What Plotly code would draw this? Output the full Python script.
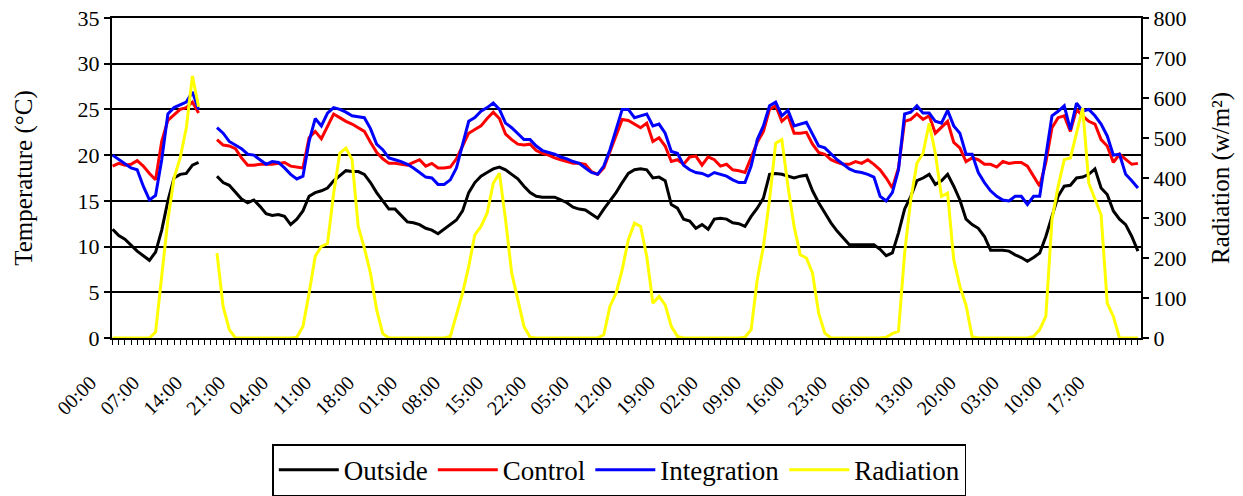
import plotly.graph_objects as go

# Hourly readings over seven days (index 0 = 00:00 on day 1); None marks missing hours.
hours = list(range(168))

outside = (
    [11.9, 11.2, 10.8, 10.1, 9.5, 9.0, 8.5, 9.4, 11.8, 15.0, 17.5, 17.9, 18.0, 18.9, 19.2]
    + [None, None]
    + [17.7, 17.0, 16.7, 15.9, 15.2, 14.8, 15.1, 14.4, 13.6, 13.4, 13.5]
    + [13.3, 12.4, 13.0, 13.9, 15.5, 15.9, 16.1, 16.4, 17.2, 17.8,
       18.3, 18.2, 18.2, 17.9, 17.0, 15.9, 15.0, 14.1, 14.1, 13.4,
       12.7, 12.6, 12.4, 12.0, 11.8, 11.4, 11.9, 12.3]
    + [12.9, 13.9, 15.9, 17.0, 17.7, 18.1, 18.5, 18.7, 18.4, 17.9,
       17.4, 16.6, 15.9, 15.5, 15.4, 15.4, 15.4, 15.1, 14.8, 14.3,
       14.1, 14.0, 13.5, 13.1, 14.1, 15.0, 15.9, 17.0]
    + [18.0, 18.4, 18.5, 18.4, 17.5, 17.6, 17.2, 14.6, 14.2, 13.0,
       12.8, 12.0, 12.4, 11.9, 13.0, 13.1, 13.0, 12.6, 12.5, 12.2,
       13.3, 14.2, 15.3, 17.9, 18.0, 17.9, 17.7, 17.5]
    + [17.7, 17.8, 16.1, 14.8, 13.7, 12.6, 11.7, 10.9, 10.2, 10.2,
       10.2, 10.2, 10.2, 9.7, 9.0, 9.3, 11.5, 14.1, 15.5, 17.2,
       17.5, 17.9, 16.8, 17.2, 17.9, 16.6, 15.1, 13.0]
    + [12.4, 12.0, 11.1, 9.6, 9.6, 9.6, 9.5, 9.1, 8.8, 8.4,
       8.8, 9.3, 11.1, 13.3, 15.5, 16.6, 16.7, 17.5, 17.6, 17.9,
       18.5, 16.4, 15.7, 13.9, 13.0, 12.4, 11.1, 9.5]
)

control = (
    [18.8, 19.1, 18.9, 19.0, 19.4, 18.8, 18.0, 17.3, 21.5, 23.8, 24.4, 25.0, 25.2, 25.8, 24.6]
    + [None, None]
    + [21.7, 21.1, 21.0, 20.7, 19.7, 18.9, 18.9, 19.0, 19.0, 19.0, 19.1]
    + [19.2, 18.8, 18.7, 18.6, 21.9, 22.6, 21.8, 23.2, 24.5, 24.1,
       23.7, 23.4, 23.0, 22.6, 21.4, 20.3, 19.6, 19.1, 19.1, 19.0,
       18.9, 19.2, 19.5, 18.8, 19.1, 18.6, 18.6, 18.7]
    + [19.6, 21.0, 22.4, 22.8, 23.2, 24.0, 24.7, 24.0, 22.3, 21.7,
       21.2, 21.1, 21.2, 20.5, 20.2, 20.0, 19.7, 19.5, 19.3, 19.1,
       19.1, 19.0, 18.2, 17.9, 18.6, 20.4, 22.1, 23.9]
    + [23.8, 23.4, 23.0, 23.5, 21.5, 21.9, 21.0, 19.3, 19.5, 19.0,
       19.8, 19.9, 18.9, 19.8, 19.5, 18.8, 19.0, 18.4, 18.3, 18.1,
       19.7, 21.4, 22.6, 25.0, 25.4, 23.7, 24.3, 22.4]
    + [22.4, 22.5, 21.2, 20.3, 20.1, 19.5, 19.2, 19.0, 19.0, 19.3,
       19.1, 19.5, 19.0, 18.4, 17.5, 16.4, 18.6, 23.7, 23.9, 24.5,
       23.9, 24.3, 22.4, 23.0, 23.7, 21.4, 20.8, 19.3]
    + [19.7, 19.5, 19.0, 19.0, 18.7, 19.3, 19.1, 19.2, 19.2, 18.8,
       17.7, 16.6, 19.2, 23.0, 24.1, 24.3, 22.6, 25.0, 24.3, 23.7,
       23.4, 21.7, 21.0, 19.2, 20.1, 19.6, 19.0, 19.1]
)

integration = (
    [20.0, 19.5, 19.1, 18.6, 18.4, 16.6, 15.1, 15.6, 19.5, 24.5, 25.2, 25.5, 25.8, 26.9, 25.0]
    + [None, None]
    + [23.0, 22.4, 21.5, 21.1, 20.7, 20.1, 20.0, 19.5, 19.0, 19.3, 19.2]
    + [18.6, 17.9, 17.4, 17.7, 21.5, 24.0, 23.2, 24.6, 25.2, 25.0,
       24.7, 24.3, 24.2, 24.1, 22.9, 21.2, 20.6, 19.7, 19.5, 19.3,
       19.0, 18.6, 18.1, 17.6, 17.5, 16.8, 16.8, 17.3]
    + [18.6, 21.0, 23.7, 24.1, 24.8, 25.2, 25.7, 25.0, 23.5, 23.0,
       22.4, 21.7, 21.7, 21.0, 20.5, 20.3, 20.1, 19.8, 19.6, 19.3,
       19.1, 18.6, 18.1, 17.9, 18.8, 20.6, 22.8, 25.0]
    + [25.0, 24.1, 24.3, 24.5, 23.2, 23.4, 22.4, 20.4, 20.2, 18.9,
       18.4, 18.1, 18.0, 17.7, 18.1, 17.9, 17.7, 17.3, 17.0, 17.0,
       18.8, 21.7, 23.2, 25.4, 25.8, 24.3, 24.9, 23.2]
    + [23.4, 23.6, 22.3, 21.0, 20.8, 20.1, 19.5, 19.0, 18.5, 18.2,
       18.1, 17.9, 17.6, 15.5, 15.0, 15.9, 18.4, 24.5, 24.7, 25.4,
       24.6, 24.6, 23.7, 23.5, 24.9, 23.2, 22.4, 20.1]
    + [20.1, 18.1, 17.0, 16.1, 15.5, 15.1, 15.0, 15.5, 15.5, 14.6,
       15.5, 15.5, 19.7, 24.3, 24.8, 25.4, 22.8, 25.7, 24.8, 25.0,
       24.3, 23.4, 22.1, 20.0, 20.1, 17.9, 17.2, 16.4]
)

radiation = (
    [0, 0, 0, 0, 0, 0, 0, 15, 155, 295, 400, 450, 525, 655, 578]
    + [None, None]
    + [212, 79, 21, 0, 0, 0, 0, 0, 0, 0, 0]
    + [0, 0, 2, 29, 112, 204, 229, 236, 362, 462,
       475, 446, 279, 225, 162, 71, 11, 0, 0, 0,
       0, 0, 0, 0, 0, 0, 0, 4]
    + [55, 112, 179, 258, 279, 312, 387, 412, 296, 162,
       96, 29, 2, 0, 0, 0, 0, 0, 0, 0,
       0, 0, 0, 0, 8, 79, 112, 171]
    + [246, 287, 279, 204, 87, 104, 83, 29, 4, 0,
       0, 0, 0, 0, 0, 0, 0, 0, 0, 2,
       21, 146, 229, 346, 487, 496, 379, 279]
    + [208, 200, 162, 62, 12, 0, 0, 0, 0, 0,
       0, 0, 0, 0, 2, 11, 17, 212, 346, 437,
       462, 537, 462, 354, 362, 196, 129, 82]
    + [3, 0, 0, 0, 0, 0, 0, 0, 0, 0,
       4, 21, 54, 296, 379, 446, 450, 512, 575, 387,
       346, 308, 87, 54, 0, 0, 0, 0]
)

# Axis labels shown every seven hours
time_labels = [
    "00:00", "07:00", "14:00", "21:00", "04:00", "11:00", "18:00", "01:00",
    "08:00", "15:00", "22:00", "05:00", "12:00", "19:00", "02:00", "09:00",
    "16:00", "23:00", "06:00", "13:00", "20:00", "03:00", "10:00", "17:00",
]
label_hours = list(range(0, 168, 7))

FONT = "Liberation Serif"

fig = go.Figure()
fig.add_trace(go.Scatter(x=hours, y=outside, name="Outside", mode="lines",
                         line=dict(color="#000000", width=3)))
fig.add_trace(go.Scatter(x=hours, y=control, name="Control", mode="lines",
                         line=dict(color="#ff0000", width=3)))
fig.add_trace(go.Scatter(x=hours, y=integration, name="Integration", mode="lines",
                         line=dict(color="#0000ff", width=3)))
fig.add_trace(go.Scatter(x=hours, y=radiation, name="Radiation", mode="lines",
                         line=dict(color="#ffff00", width=3), yaxis="y2"))

fig.update_layout(
    width=1243, height=496,
    template="none",
    paper_bgcolor="white", plot_bgcolor="white",
    margin=dict(l=112, r=102, t=18, b=158, autoexpand=False),
    font=dict(family=FONT, color="black", size=22),
    xaxis=dict(
        range=[-0.1, 167.5], showgrid=False, zeroline=False,
        showline=True, linecolor="black", linewidth=2, mirror=True,
        tickmode="array", tickvals=label_hours, ticktext=time_labels,
        tickangle=-45, ticks="outside", ticklen=5, tickwidth=1, tickcolor="black",
        tickfont=dict(family=FONT, size=20),
        ticklabelshift=-22, ticklabelstandoff=18,
        minor=dict(tickmode="linear", tick0=0, dtick=1, ticks="outside",
                   ticklen=5, tickwidth=1, tickcolor="black", showgrid=False),
    ),
    yaxis=dict(
        range=[0, 35], dtick=5, tick0=0,
        showgrid=True, gridcolor="black", gridwidth=1.5, zeroline=False,
        showline=True, linecolor="black", linewidth=2,
        ticks="outside", ticklen=6, tickwidth=1.5, tickcolor="black",
        tickfont=dict(family=FONT, size=22),
        title=dict(text="Temperature (°C)", font=dict(family=FONT, size=25), standoff=38),
    ),
    yaxis2=dict(
        range=[0, 800], dtick=100, tick0=0, overlaying="y", side="right",
        showgrid=False, zeroline=False,
        showline=True, linecolor="black", linewidth=2,
        ticks="outside", ticklen=6, tickwidth=1.5, tickcolor="black",
        tickfont=dict(family=FONT, size=22),
        title=dict(text="Radiation (w/m²)", font=dict(family=FONT, size=25), standoff=26),
    ),
    legend=dict(
        orientation="h", x=0.493, xanchor="center", y=-0.332, yanchor="top",
        bordercolor="black", borderwidth=1.5, bgcolor="white",
        font=dict(family=FONT, size=27), itemwidth=60,
    ),
    showlegend=True,
)

fig.write_html("out.html")
